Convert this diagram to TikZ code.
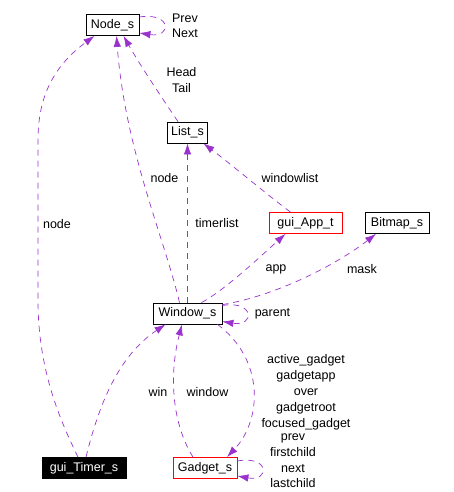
\documentclass[tikz,border=0pt]{standalone}
\usepackage{fontspec}
\setmainfont{Liberation Sans}
\usepackage{xcolor}
\usepackage{tikz}
\usetikzlibrary{arrows.meta}
\definecolor{orchid}{HTML}{9A32CD}

\begin{document}
\begin{tikzpicture}[x=1pt,y=-1pt,
		box/.style={draw,line width=0.8pt,minimum height=21pt,inner sep=0pt,font=\fontsize{12.5}{15}\selectfont},
		lbl/.style={inner sep=0pt,align=center,font=\fontsize{12.5}{16}\selectfont},
		uses/.style={orchid,line width=0.7pt,dash pattern=on 6pt off 5pt,-{Latex[length=11pt,width=7.5pt]}}]
		\useasboundingbox (0,0) rectangle (453,492);
		% classes
		\node[box,minimum width=53pt] (node) at (112.5,25) {Node\_s};
		\node[box,minimum width=40pt] (list) at (187.5,132.5) {List\_s};
		\node[box,draw=red,minimum width=73pt] (app) at (305.5,223) {gui\_App\_t};
		\node[box,minimum width=64pt] (bitmap) at (397,223) {Bitmap\_s};
		\node[box,minimum width=69pt] (win) at (187.5,313.5) {Window\_s};
		\node[box,fill=black,text=white,minimum width=84pt] (timer) at (84,468) {gui\_Timer\_s};
		\node[box,draw=red,minimum width=64pt] (gadget) at (205,468) {Gadget\_s};
		% members
		\draw[uses] ([yshift=8pt]node.east) .. controls (172,12) and (172,38) .. ([yshift=-8pt]node.east);
		\draw[uses] ([xshift=-9.5pt]list.north) .. controls (160,95) and (140,65) .. ([xshift=11pt]node.south);
		\draw[uses] ([xshift=-8pt]win.north) .. controls (165,240) and (125,150) .. ([xshift=4pt]node.south);
		\draw[uses] ([xshift=-6pt]timer.north) .. controls (60,420) and (38,370) .. (38,300) -- (38,140)
			.. controls (38,95) and (55,65) .. ([xshift=-18pt]node.south);
		\draw[uses] (list.south |- win.north) -- (list.south);
		\draw[uses] ([xshift=-15pt]app.north) .. controls (265,193) and (232,165) .. ([xshift=-4.5pt]list.south east);
		\draw[uses] ([xshift=14pt]win.north) .. controls (225,290) and (262,255) .. ([xshift=-20pt]app.south);
		\draw[uses] ([yshift=-2pt]win.north east) .. controls (280,295) and (340,262) .. ([xshift=-21pt]bitmap.south);
		\draw[uses] ([yshift=8pt]win.east) .. controls (255,300) and (255,327) .. ([yshift=-8pt]win.east);
		\draw[uses] ([xshift=2pt]timer.north) .. controls (100,400) and (120,355) .. ([xshift=-22pt]win.south);
		\draw[uses] ([xshift=-12pt]gadget.north) .. controls (170,420) and (170,370) .. ([xshift=-5.5pt]win.south);
		\draw[uses] ([xshift=30pt]win.south) .. controls (265,360) and (262,420) .. ([xshift=22pt]gadget.north);
		\draw[uses] ([yshift=7pt]gadget.east) .. controls (270,455) and (270,482) .. ([yshift=-8pt]gadget.east);
		% labels
		\node[lbl,font=\fontsize{12.5}{15}\selectfont] (prevnext) at (185,25.5) {Prev\\Next};
		\node[lbl] (headtail) at (181.5,80) {Head\\Tail};
		\node[lbl] (winnode) at (164.5,178) {node};
		\node[lbl] (timernode) at (57,224) {node};
		\node[lbl] (timerlist) at (217,223) {timerlist};
		\node[lbl] (windowlist) at (290,178) {windowlist};
		\node[lbl] (applbl) at (276,269) {app};
		\node[lbl] (mask) at (362,269) {mask};
		\node[lbl] (parent) at (272.5,314) {parent};
		\node[lbl] (winlbl) at (158,392) {win};
		\node[lbl] (window) at (207.5,392) {window};
		\node[lbl] (gadgets) at (306,392) {active\_gadget\\gadgetapp\\over\\gadgetroot\\focused\_gadget};
		\node[lbl,font=\fontsize{12.5}{15.7}\selectfont] (children) at (293,461) {prev\\firstchild\\next\\lastchild};
	\end{tikzpicture}
\end{document}
